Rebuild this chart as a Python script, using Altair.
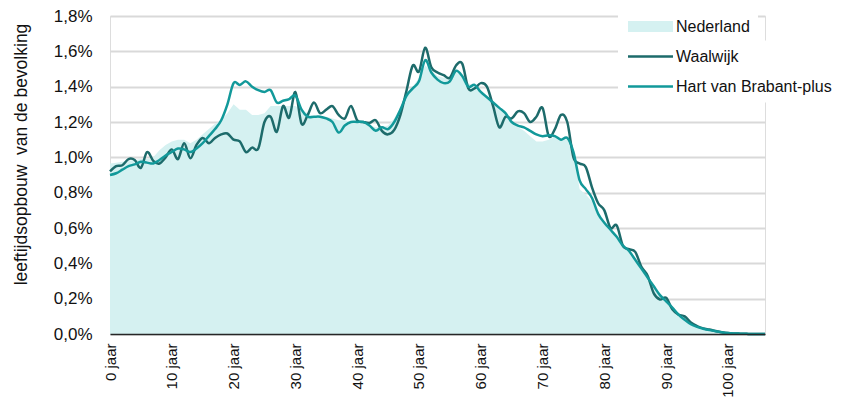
import altair as alt
import pandas as pd

ages = list(range(0, 107))

nederland = [0.965, 0.97, 0.975, 0.98, 0.985, 0.99, 0.99, 1.00, 1.04, 1.07,
             1.09, 1.10, 1.10, 1.08, 1.10, 1.13, 1.16, 1.19, 1.21, 1.25,
             1.30, 1.27, 1.27, 1.24, 1.24, 1.25, 1.29, 1.29, 1.29, 1.29,
             1.29, 1.27, 1.25, 1.23, 1.23, 1.23, 1.22, 1.21, 1.21, 1.20,
             1.20, 1.19, 1.18, 1.17, 1.17, 1.18, 1.22, 1.28, 1.36, 1.40,
             1.45, 1.52, 1.49, 1.46, 1.45, 1.46, 1.48, 1.46, 1.42, 1.40,
             1.37, 1.34, 1.30, 1.27, 1.24, 1.20, 1.17, 1.15, 1.12, 1.09,
             1.09, 1.10, 1.12, 1.11, 1.10, 1.03, 0.82, 0.79, 0.75, 0.67,
             0.63, 0.59, 0.55, 0.50, 0.47, 0.42, 0.38, 0.33, 0.28, 0.23,
             0.19, 0.155, 0.12, 0.085, 0.06, 0.045, 0.033, 0.024, 0.017, 0.011,
             0.007, 0.004, 0.002, 0.001, 0.0, 0.0, 0.0]

waalwijk = [0.92, 0.95, 0.955, 0.99, 0.985, 0.94, 1.03, 0.98, 0.965, 1.00,
            1.045, 0.99, 1.08, 0.995, 1.07, 1.11, 1.08, 1.11, 1.13, 1.135,
            1.10, 1.09, 1.03, 1.055, 1.05, 1.20, 1.23, 1.145, 1.29, 1.225,
            1.37, 1.19, 1.24, 1.31, 1.25, 1.27, 1.29, 1.24, 1.22, 1.29,
            1.21, 1.20, 1.195, 1.21, 1.15, 1.13, 1.155, 1.24, 1.38, 1.52,
            1.485, 1.62, 1.51, 1.48, 1.465, 1.45, 1.52, 1.53, 1.39, 1.39,
            1.42, 1.40, 1.29, 1.17, 1.23, 1.22, 1.26, 1.25, 1.20, 1.23,
            1.28, 1.12, 1.16, 1.24, 1.20, 1.00, 0.965, 0.945, 0.83, 0.74,
            0.70, 0.60, 0.615, 0.50, 0.48, 0.465, 0.38, 0.33, 0.23, 0.195,
            0.205, 0.14, 0.11, 0.10, 0.065, 0.045, 0.032, 0.025, 0.017, 0.01,
            0.005, 0.003, 0.002, 0.001, 0.0, 0.0, 0.0]

hart = [0.90, 0.91, 0.93, 0.95, 0.96, 0.975, 0.97, 0.965, 0.985, 1.01,
        1.03, 1.05, 1.045, 1.03, 1.05, 1.08, 1.12, 1.16, 1.21, 1.30,
        1.42, 1.41, 1.43, 1.40, 1.38, 1.37, 1.38, 1.31, 1.32, 1.33,
        1.35, 1.27, 1.23, 1.23, 1.23, 1.22, 1.20, 1.14, 1.18, 1.20,
        1.20, 1.20, 1.18, 1.15, 1.17, 1.16, 1.20, 1.27, 1.35, 1.39,
        1.43, 1.55, 1.48, 1.44, 1.42, 1.43, 1.49, 1.46, 1.40, 1.41,
        1.37, 1.34, 1.31, 1.28, 1.25, 1.20, 1.18, 1.17, 1.15, 1.13,
        1.12, 1.125, 1.12, 1.10, 1.11, 1.03, 0.87, 0.82, 0.77, 0.68,
        0.63, 0.59, 0.55, 0.50, 0.47, 0.42, 0.37, 0.32, 0.27, 0.22,
        0.185, 0.15, 0.11, 0.08, 0.055, 0.04, 0.03, 0.022, 0.016, 0.01,
        0.005, 0.003, 0.002, 0.001, 0.0, 0.0, 0.0]

series_names = ["Nederland", "Waalwijk", "Hart van Brabant-plus"]
x_ticks = list(range(0, 101, 10))
y_ticks = [0.0, 0.2, 0.4, 0.6, 0.8, 1.0, 1.2, 1.4, 1.6, 1.8]
y_title = "leeftijdsopbouw\u00a0 van de bevolking"

FILL_NL = "#d5f1f1"
COL_W = "#1d6b6b"
COL_H = "#12999a"
FONT = "Liberation Sans"

rows = []
for name, vals in zip(series_names, [nederland, waalwijk, hart]):
    for a, v in zip(ages, vals):
        rows.append({"serie": name, "leeftijd": a, "waarde": v})
df = pd.DataFrame(rows)

x_enc = alt.X(
    "leeftijd:Q",
    scale=alt.Scale(domain=[0, 106], nice=False, zero=False),
    axis=alt.Axis(values=x_ticks, labelExpr="datum.value + ' jaar'", labelAngle=-90,
                  ticks=False, grid=False, domain=True, domainColor="#262626",
                  domainWidth=1.5, labelFontSize=15, labelPadding=9, title=None,
                  labelColor="#111111", labelFont=FONT, zindex=1),
)
y_enc = alt.Y(
    "waarde:Q",
    scale=alt.Scale(domain=[0, 1.8], nice=False),
    axis=alt.Axis(values=y_ticks,
                  labelExpr="replace(format(datum.value, '.1f'), '.', ',') + '%'",
                  grid=True, gridColor="#d9d9d9", gridWidth=2, domain=False,
                  ticks=False, labelPadding=18, labelFontSize=17, labelColor="#111111",
                  labelFont=FONT,
                  title=y_title, titleFontSize=17.5,
                  titleFontWeight="normal", titleFont=FONT, titleColor="#111111",
                  titleX=-84, titleY=138, titleAngle=270, titleAlign="center",
                  titleBaseline="alphabetic"),
)

area = alt.Chart(df).transform_filter(alt.datum.serie == "Nederland").mark_area(
    opacity=1, interpolate="linear"
).encode(
    x=x_enc, y=y_enc,
    fill=alt.Fill("serie:N", scale=alt.Scale(domain=["Nederland"], range=[FILL_NL]),
                  legend=alt.Legend(orient="none", legendX=508, legendY=-5.5,
                                    title=None, fillColor="white", padding=8,
                                    symbolType="M-4.09,-1H4.09V1H-4.09Z",
                                    symbolSize=121, symbolStrokeWidth=0,
                                    symbolOffset=16.5, labelOffset=17.5,
                                    labelFontSize=16, labelFont=FONT, labelLimit=300,
                                    labelColor="#111111")),
)

stroke_scale = alt.Scale(domain=["Waalwijk", "Hart van Brabant-plus"], range=[COL_W, COL_H])
stroke_legend = alt.Legend(orient="none", legendX=508, legendY=24.5, title=None,
                           fillColor="white", padding=8,
                           symbolType="M-4.09,0H4.09", symbolSize=121,
                           symbolStrokeWidth=2.5, symbolOffset=16.5, labelOffset=17.5,
                           rowPadding=14, labelFontSize=16, labelFont=FONT,
                           labelLimit=300, labelColor="#111111")

line_w = alt.Chart(df).transform_filter(alt.datum.serie == "Waalwijk").mark_line(
    strokeWidth=2.5, interpolate="cardinal"
).encode(x=x_enc, y=y_enc,
         stroke=alt.Stroke("serie:N", scale=stroke_scale, legend=stroke_legend))

line_h = alt.Chart(df).transform_filter(alt.datum.serie == "Hart van Brabant-plus").mark_line(
    strokeWidth=2.5, interpolate="cardinal"
).encode(x=x_enc, y=y_enc,
         stroke=alt.Stroke("serie:N", scale=stroke_scale, legend=stroke_legend))

chart = alt.layer(area, line_w, line_h).properties(
    width=655, height=318,
    autosize=alt.AutoSizeParams(type="none"),
    padding={"left": 102, "top": 8, "right": 70, "bottom": 65},
).configure_view(stroke=None).configure(font=FONT)

chart.save("out.html", embed_options={"renderer": "svg", "actions": False})
